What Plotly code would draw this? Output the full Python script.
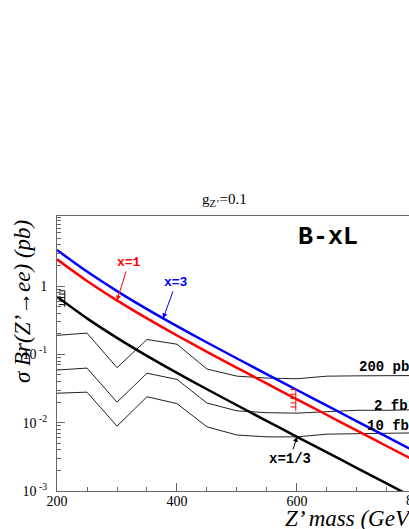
import numpy as np
import plotly.graph_objects as go

# Z' mass points (GeV)
mass = [200, 250, 300, 350, 400, 450, 500, 550, 600, 650, 700, 750, 800]

# sigma*Br(Z'->ee) in pb for the B-xL model, g_Z'=0.1
xs_x3 = [3.37, 1.63, 0.845, 0.460, 0.259, 0.1494, 0.0871, 0.0511, 0.0301, 0.01775, 0.01048, 0.00619, 0.00366]
xs_x1 = [2.46, 1.19, 0.617, 0.336, 0.189, 0.1091, 0.0636, 0.0373, 0.0219, 0.01296, 0.00765, 0.00452, 0.00267]
xs_x13 = [0.697, 0.337, 0.1746, 0.0950, 0.0535, 0.0309, 0.0180, 0.01056, 0.00621, 0.00367, 0.00217, 0.00128, 0.000756]

# discovery limits for the three luminosities
lim_200pb = [0.19, 0.205, 0.064, 0.165, 0.141, 0.061, 0.048, 0.045, 0.044, 0.048, 0.0485, 0.0487, 0.049]
lim_2fb = [0.059, 0.063, 0.020, 0.053, 0.043, 0.0194, 0.0149, 0.014, 0.0138, 0.0145, 0.0152, 0.0152, 0.0155]
lim_10fb = [0.027, 0.028, 0.0089, 0.024, 0.019, 0.0087, 0.0066, 0.0062, 0.0062, 0.0068, 0.0069, 0.0070, 0.0071]

# small hatched limit markers
hatch_black_mass = 213
hatch_black_vals = [0.853, 0.764, 0.678, 0.603, 0.535, 0.497]
hatch_red_mass = 598
hatch_red_vals = [0.0306, 0.0261, 0.0226, 0.0195, 0.0170, 0.0148]

y_ticks = [1, 0.1, 0.01, 0.001]
y_ticktext = ["1", "10<sup> -1</sup>", "10<sup> -2</sup>", "10<sup> -3</sup>"]

SERIF = "Liberation Serif"
MONO = "Liberation Mono"


def log_on_curve(m, vals):
    # annotations on a log axis take log10 positions
    return float(np.interp(m, mass, np.log10(vals)))


fig = go.Figure()

for lim in [lim_200pb, lim_2fb, lim_10fb]:
    fig.add_trace(go.Scatter(x=mass, y=lim, mode="lines",
                             line=dict(color="#222222", width=1)))

for vals, col in [(xs_x13, "black"), (xs_x1, "#ff0000"), (xs_x3, "#0000ff")]:
    fig.add_trace(go.Scatter(x=mass, y=vals, mode="lines",
                             line=dict(color=col, width=2.5, shape="spline", smoothing=0.8)))

# hatched markers: vertical bar with short ticks to the left
for m0, vals, col, dm in [(hatch_black_mass, hatch_black_vals, "black", 10),
                          (hatch_red_mass, hatch_red_vals, "#ff0000", 9)]:
    hx = [m0, m0, None]
    hy = [vals[0], vals[-1], None]
    for v in vals[:-1]:
        hx += [m0 - dm, m0, None]
        hy += [v, v, None]
    fig.add_trace(go.Scatter(x=hx, y=hy, mode="lines", line=dict(color=col, width=1)))

annots = [
    dict(x=300, y=log_on_curve(300, xs_x1), text="<b>x=1</b>", font=dict(family=MONO, size=13, color="#ff0000"),
         ax=12, ay=-38, arrowcolor="#ff0000"),
    dict(x=377, y=log_on_curve(377, xs_x3), text="<b>x=3</b>", font=dict(family=MONO, size=13, color="#0000ff"),
         ax=13, ay=-36, arrowcolor="#0000ff"),
    dict(x=600, y=log_on_curve(600, xs_x13), text="<b>x=1/3</b>", font=dict(family=MONO, size=14, color="black"),
         ax=-7, ay=22, arrowcolor="black"),
]
for a in annots:
    fig.add_annotation(xref="x", yref="y", showarrow=True, arrowhead=2, arrowwidth=1,
                       arrowsize=1, **a)


def paper_text(x, y, text, font, xanchor="center", angle=0):
    fig.add_annotation(xref="paper", yref="paper", x=x, y=y, text=text, font=font,
                       xanchor=xanchor, yanchor="middle", textangle=angle, showarrow=False)


paper_text(0.770, 0.9236, "<b>B-xL</b>", dict(family=MONO, size=25, color="black"))
paper_text(0.852, 0.454, "<b>200 pb<sup>-1</sup></b>", dict(family=MONO, size=14, color="black"), "left")
paper_text(0.895, 0.312, "<b>2 fb<sup>-1</sup></b>", dict(family=MONO, size=14, color="black"), "left")
paper_text(0.875, 0.239, "<b>10 fb<sup>-1</sup></b>", dict(family=MONO, size=14, color="black"), "left")
paper_text(0.477, 1.058, "g<sub>Z’</sub>=0.1", dict(family=SERIF, size=15, color="black"))
paper_text(-0.0994, 0.687, "<i>σ Br(Z’→ee) (pb)</i>", dict(family=SERIF, size=23, color="black"), angle=-90)
paper_text(0.642, -0.099, "<i>Z’ mass (GeV)</i>", dict(family=SERIF, size=23, color="black"), "left")
# 800 tick label sits past the window edge
paper_text(1.0199, -0.034, "800", dict(family=SERIF, size=14, color="black"))

fig.update_xaxes(range=[200, 786.7], tick0=200, dtick=200, ticks="inside", ticklen=8,
                 showline=True, linecolor="#666666", linewidth=1, mirror=True,
                 showgrid=False, zeroline=False, ticklabelstandoff=-3,
                 tickfont=dict(family=SERIF, size=14, color="black"),
                 minor=dict(dtick=50, tick0=200, ticks="inside", ticklen=4, tickcolor="#666666"),
                 tickcolor="#666666")
fig.update_yaxes(type="log", range=[-3, 1.026], tickmode="array", tickvals=y_ticks,
                 ticktext=y_ticktext, ticks="inside", ticklen=8, tickcolor="#666666",
                 showline=True, linecolor="#666666", linewidth=1, mirror=False,
                 showgrid=False, zeroline=False, ticklabelstandoff=6,
                 tickfont=dict(family=SERIF, size=14, color="black"),
                 minor=dict(dtick="D1", ticks="inside", ticklen=4, tickcolor="#666666"))

fig.update_layout(width=409, height=529, showlegend=False,
                  margin=dict(l=57, r=0, t=216, b=38),
                  paper_bgcolor="white", plot_bgcolor="white")

fig.write_html("out.html", config={"displayModeBar": False},
               post_script="document.body.style.margin='0';document.body.style.overflow='hidden';")
